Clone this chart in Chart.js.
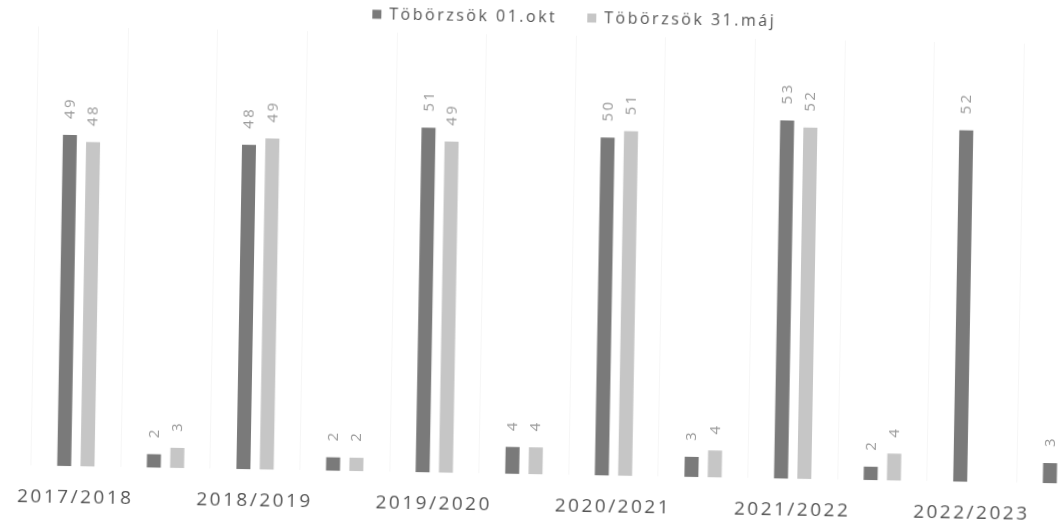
<!DOCTYPE html>
<html>
<head>
<meta charset="utf-8">
<script src="https://cdn.jsdelivr.net/npm/chart.js@4"></script>
<style>
  html, body { margin: 0; padding: 0; background: #fff; overflow: hidden; }
  #wrap {
    position: absolute; left: 0; top: 0;
    width: 1120px; height: 526px;
    transform: rotate(1deg);
    transform-origin: 530px 263px;
  }
</style>
</head>
<body>
<div id="wrap"><canvas id="chart"></canvas></div>
<script>
// one labelled slot per school year, followed by an unlabelled slot for the small pair
const categories = ["2017/2018", "", "2018/2019", "", "2019/2020", "", "2020/2021", "", "2021/2022", "", "2022/2023", ""];
const seriesNames = ["Töbörzsök 01.okt", "Töbörzsök 31.máj"];
const oktValues = [49, 2, 48, 2, 51, 4, 50, 3, 53, 2, 52, 3];
const majValues = [48, 3, 49, 2, 49, 4, 51, 4, 52, 4, null, null];

const spacing = {
    id: "spacing",
    beforeUpdate(chart) { chart.ctx.letterSpacing = "2.5px"; },
    beforeDraw(chart) { chart.ctx.letterSpacing = "2.5px"; }
};

// vertical value labels above each bar
const barLabels = {
    id: "barLabels",
    afterDatasetsDraw(chart) {
        const ctx = chart.ctx;
        chart.data.datasets.forEach((ds, i) => {
            const meta = chart.getDatasetMeta(i);
            meta.data.forEach((bar, j) => {
                const v = ds.data[j];
                if (v === null || v === undefined) return;
                ctx.save();
                ctx.translate(bar.x, bar.y - 16);
                ctx.rotate(-Math.PI / 2);
                ctx.font = '15px "Open Sans"';
                ctx.fillStyle = "#999";
                ctx.textAlign = "left";
                ctx.textBaseline = "middle";
                ctx.fillText(String(v), 0, 0);
                ctx.restore();
            });
        });
    }
};

Chart.defaults.font.family = '"Open Sans", sans-serif';

new Chart(document.getElementById("chart").getContext("2d"), {
    type: "bar",
    data: {
        labels: categories,
        datasets: [
            {
                label: seriesNames[0],
                data: oktValues,
                backgroundColor: "#7a7a7a",
                categoryPercentage: 0.52,
                barPercentage: 0.6
            },
            {
                label: seriesNames[1],
                data: majValues,
                backgroundColor: "#c6c6c6",
                categoryPercentage: 0.52,
                barPercentage: 0.6
            }
        ]
    },
    options: {
        responsive: true,
        maintainAspectRatio: false,
        animation: false,
        layout: { padding: { left: 30, right: 10, top: -21, bottom: -11 } },
        plugins: {
            tooltip: { enabled: false },
            legend: {
                position: "top",
                labels: {
                    boxWidth: 9,
                    boxHeight: 9,
                    padding: 30,
                    color: "#555",
                    font: { size: 16 }
                }
            }
        },
        scales: {
            x: {
                grid: { display: true, color: "rgba(0,0,0,0.035)", drawTicks: false },
                border: { display: false },
                ticks: {
                    autoSkip: false,
                    maxRotation: 0,
                    padding: 20,
                    color: "#555",
                    font: { size: 19 }
                }
            },
            y: {
                display: false,
                min: 0,
                max: 65
            }
        }
    },
    plugins: [spacing, barLabels]
});
</script>
</body>
</html>
